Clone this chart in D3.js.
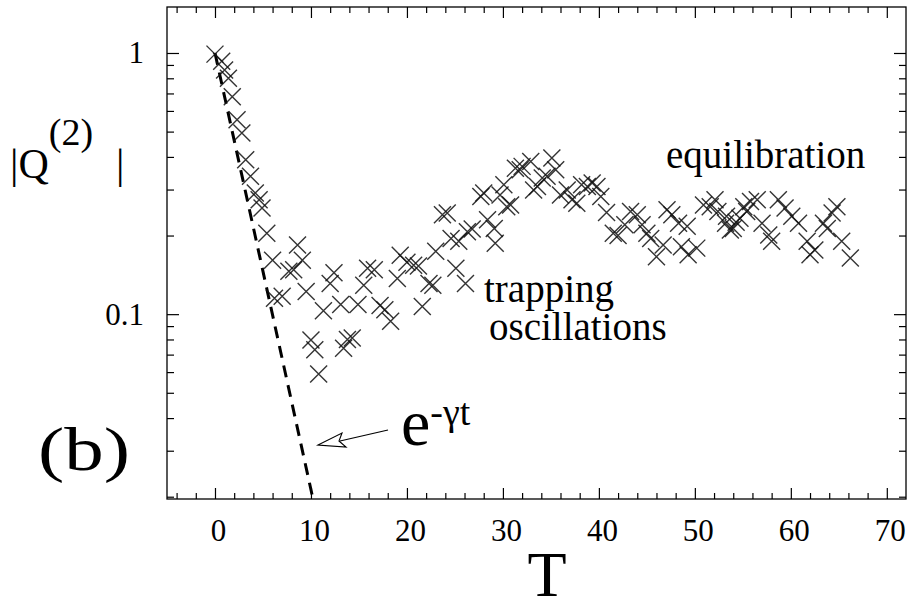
<!DOCTYPE html>
<html><head><meta charset="utf-8">
<script src="https://cdn.jsdelivr.net/npm/d3@7"></script>
<style>
body{margin:0;background:#fff}
text{font-family:"Liberation Serif","Times New Roman",serif;fill:#000}
</style>
</head><body>
<svg id="c" width="910" height="601"></svg>
<script>
// time T and |Q(2)|
const tVals=[0,0.7,1.0,1.4,1.8,2.3,2.8,3.2,3.7,4.2,4.6,4.9,5.4,6.0,6.2,7.0,7.7,8.2,8.6,9.1,9.5,
10.0,10.4,10.8,11.3,12.0,12.4,13.1,13.4,13.8,14.3,14.9,15.5,15.9,16.6,17.2,17.7,18.3,19.0,19.3,20.0,20.7,21.2,
21.6,22.3,22.7,23.0,23.7,24.2,24.6,25.1,25.4,26.1,26.3,26.8,27.7,28.0,28.4,29.1,29.2,29.7,30.1,30.4,30.8,
31.3,31.8,32.0,32.9,33.2,33.6,34.1,34.6,35.1,35.5,36.0,36.7,37.2,37.7,38.2,38.8,39.3,39.8,40.2,40.8,41.5,42.0,
42.7,43.3,44.0,44.5,45.0,45.4,46.0,46.7,47.1,47.6,48.3,48.6,49.2,49.3,50.2,50.9,51.6,52.1,52.4,53.2,53.3,53.7,
54.0,54.3,54.7,55.1,55.4,55.8,56.5,57.0,57.7,58.0,58.7,59.4,60.1,60.8,61.7,62.0,62.5,63.4,63.8,64.3,64.8,65.3,66.2]
const qVals=[0.99,0.93,0.86,0.80,0.68,0.555,0.494,0.39,0.337,0.291,0.274,0.255,0.204,0.161,0.115,0.117,0.146,0.148,0.184,0.161,0.122,
0.0797,0.073,0.059,0.103,0.131,0.144,0.109,0.074,0.080,0.081,0.109,0.129,0.150,0.148,0.108,0.104,0.094,0.137,0.168,0.158,0.154,0.153,
0.107,0.131,0.129,0.174,0.240,0.244,0.195,0.150,0.190,0.131,0.207,0.212,0.282,0.291,0.230,0.213,0.187,0.286,0.313,0.258,0.262,
0.362,0.357,0.368,0.384,0.299,0.308,0.332,0.337,0.396,0.357,0.286,0.299,0.274,0.266,0.313,0.308,0.318,0.308,0.282,0.245,0.204,0.200,
0.220,0.247,0.240,0.220,0.204,0.195,0.166,0.184,0.251,0.240,0.223,0.181,0.217,0.169,0.179,0.262,0.258,0.274,0.247,0.223,0.237,0.210,
0.213,0.225,0.233,0.258,0.247,0.270,0.274,0.223,0.201,0.190,0.274,0.255,0.237,0.223,0.190,0.169,0.176,0.223,0.213,0.244,0.258,0.190,0.164]
const xMajor=[0,10,20,30,40,50,60,70]
const xMinor=d3.range(-4,72,2).filter(v=>v%10!==0)
const yMajor=[0.1,1]
const yMinor=[0.02,0.03,0.04,0.05,0.06,0.07,0.08,0.09,0.2,0.3,0.4,0.5,0.6,0.7,0.8,0.9]
const gamma=0.385

const svg=d3.select("#c")
const L=167,R=906,T=7,B=499
const x=d3.scaleLinear().domain([-5,72]).range([L,R])
const y=d3.scaleLog().domain([0.0196,1.5]).range([B,T])

// ticks, all pointing inwards, on all four sides
function ticks(axis,g,vals,size,pad){
  g.call(axis.tickValues(vals).tickSize(size).tickPadding(pad))
  g.select(".domain").remove()
  g.selectAll("line").attr("stroke","#000").attr("stroke-width",1.2)
}
const gb=svg.append("g").attr("transform",`translate(0,${B})`)
ticks(d3.axisBottom(x).tickFormat(""),gb.append("g"),xMinor,-6,0)
ticks(d3.axisBottom(x).tickFormat(d3.format("d")),gb.append("g"),xMajor,-11,20)
gb.selectAll("text").attr("font-size",31).attr("dx",3)
const gt=svg.append("g").attr("transform",`translate(0,${T})`)
ticks(d3.axisTop(x).tickFormat(""),gt.append("g"),xMinor,-6,0)
ticks(d3.axisTop(x).tickFormat(""),gt.append("g"),xMajor,-11,0)
const gl=svg.append("g").attr("transform",`translate(${L},0)`)
ticks(d3.axisLeft(y).tickFormat(""),gl.append("g"),yMinor,-7,0)
ticks(d3.axisLeft(y).tickFormat(d=>d===1?"1":"0.1"),gl.append("g"),yMajor,-12,23)
gl.selectAll("text").attr("font-size",31)
const gr=svg.append("g").attr("transform",`translate(${R},0)`)
ticks(d3.axisRight(y).tickFormat(""),gr.append("g"),yMinor,-7,0)
ticks(d3.axisRight(y).tickFormat(""),gr.append("g"),yMajor,-12,0)
svg.selectAll(".tick text").attr("fill","#000")

svg.append("rect").attr("x",L).attr("y",T).attr("width",R-L).attr("height",B-T)
  .attr("fill","none").attr("stroke","#000").attr("stroke-width",1.3)

// exponential decay e^{-gamma t}: straight on log axis
const tEnd=Math.log(1/0.0196)/gamma
svg.append("path")
  .attr("d",d3.line().x(d=>x(d)).y(d=>y(Math.exp(-gamma*d)))([0,tEnd]))
  .attr("fill","none").attr("stroke","#000").attr("stroke-width",3).attr("stroke-dasharray","12,8")

// crosses
const pts=tVals.map((t,i)=>({t,q:qVals[i]}))
svg.append("g").selectAll("path").data(pts).join("path")
  .attr("transform",d=>`translate(${x(d.t)},${y(d.q)})`)
  .attr("d","M-8.5,-8.5L8.5,8.5M-8.5,8.5L8.5,-8.5")
  .attr("stroke","#111").attr("stroke-width",1.4).attr("stroke-opacity",0.85)

// labels
svg.append("text").attr("x",547).attr("y",596).attr("text-anchor","middle").attr("font-size",64).text("T")
const ql=svg.append("text").attr("x",10).attr("y",178).attr("font-size",42)
ql.append("tspan").text("|Q")
ql.append("tspan").attr("font-size",38).attr("dy",-33).text("(2)")
svg.append("text").attr("x",116).attr("y",178).attr("font-size",42).text("|")
svg.append("text").attr("x",38).attr("y",470).attr("font-size",62)
  .attr("textLength",92).attr("lengthAdjust","spacingAndGlyphs").text("(b)")
const el=svg.append("text").attr("x",401).attr("y",445).attr("font-size",66)
el.append("tspan").text("e")
el.append("tspan").attr("font-size",38).attr("dy",-20).text("-γt")
svg.append("text").attr("x",484).attr("y",302).attr("font-size",39).text("trapping")
svg.append("text").attr("x",489).attr("y",340).attr("font-size",39).text("oscillations")
svg.append("text").attr("x",666).attr("y",168).attr("font-size",39).text("equilibration")

// open arrow pointing at the decay line
svg.append("line").attr("x1",388).attr("y1",430).attr("x2",340).attr("y2",441)
  .attr("stroke","#000").attr("stroke-width",1.2)
svg.append("path").attr("d","M318,445L342,433L339,441L346,447Z")
  .attr("fill","#fff").attr("stroke","#000").attr("stroke-width",1.1)
</script>
</body></html>
